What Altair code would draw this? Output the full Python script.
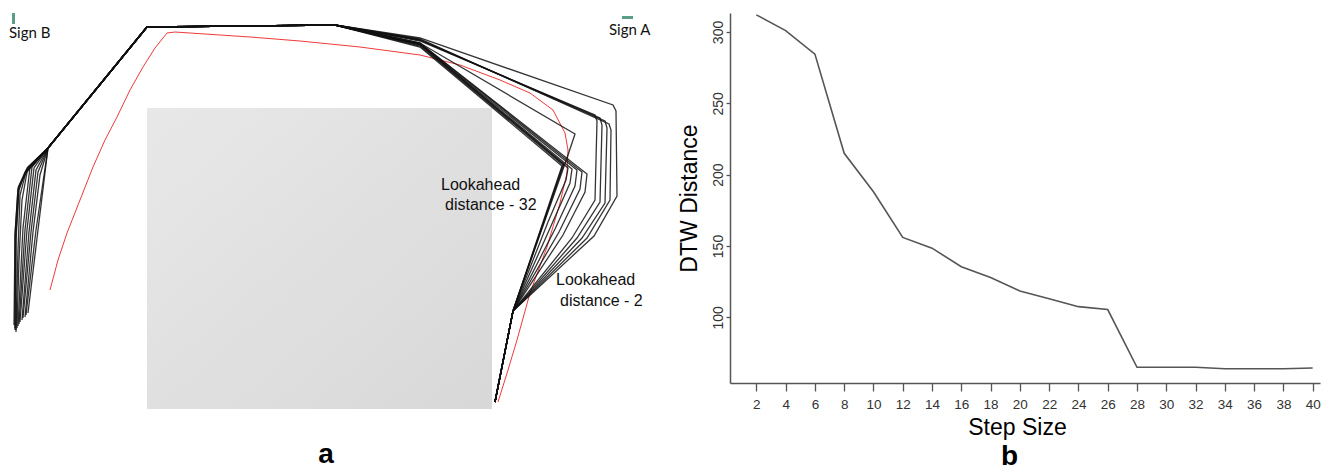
import altair as alt
import pandas as pd

# ---------------- panel b : DTW distance vs step size ----------------
step_size = [2, 4, 6, 8, 10, 12, 14, 16, 18, 20, 22, 24, 26, 28, 30, 32, 34, 36, 38, 40]
dtw_distance = [312, 301, 284.5, 215, 188, 156, 148.5, 135.5, 128, 118.5,
                113, 107.5, 105.5, 65, 65, 65, 64, 64, 64, 64.5]
dtw_ticks = [100, 150, 200, 250, 300]

# ---------------- panel a : trajectories (image coordinates) ----------------
shared_start = [(495, 402), (513, 311)]
right_parts = [
    [(563, 165), (420, 46)],
    [(562, 166), (420, 47)],
    [(564, 164), (421, 45)],
    [(567, 158), (575, 134), (420, 43)],
    [(548, 222), (566, 180), (568, 168), (420, 45)],
    [(551, 226), (570, 183), (572, 169), (420, 44)],
    [(555, 229), (575, 186), (577, 170), (420, 44)],
    [(559, 232), (580, 189), (582, 172), (420, 43)],
    [(563, 235), (585, 192), (587, 174), (420, 43)],
    [(572, 238), (595, 200), (597, 121), (595, 115), (420, 41)],
    [(577, 238), (600, 202), (602, 125), (600, 118), (420, 40)],
    [(582, 238), (605, 203), (607, 128), (605, 121), (420, 40)],
    [(587, 238), (610, 200), (611, 130), (609, 124), (420, 39)],
    [(594, 236), (617, 196), (616, 111), (613, 105), (420, 38)],
]
shared_top = [(335, 25), (147, 27), (48, 148)]
left_parts = [
    [(38, 230), (28, 313)],
    [(36, 230), (26, 315)],
    [(40, 175), (33, 232), (25, 317)],
    [(38, 172), (31, 232), (23, 318)],
    [(36, 170), (29, 232), (22, 320)],
    [(34, 168), (27, 230), (20, 322)],
    [(32, 167), (25, 230), (19, 324)],
    [(30, 167), (23, 228), (18, 326)],
    [(28, 167), (22, 200), (19, 260), (17, 328)],
    [(27, 168), (20, 195), (18, 250), (16, 330)],
    [(26, 170), (19, 190), (16, 240), (16, 332)],
    [(25, 172), (18, 188), (15, 235), (15, 330)],
    [(27, 171), (19, 186), (16, 232), (15, 328)],
    [(25, 174), (18, 190), (15, 235), (14, 325)],
]
red_path = [(50, 290), (58, 260), (67, 233), (80, 200), (93, 167), (105, 140),
            (117, 117), (130, 90), (143, 67), (155, 48), (167, 33), (175, 32),
            (250, 37), (300, 41), (360, 47), (420, 55), (460, 65), (500, 80),
            (530, 93), (553, 110), (565, 133), (568, 150), (567, 173), (560, 203),
            (547, 247), (530, 293), (517, 340), (508, 370), (498, 402)]
obstacle = {"x0": [147], "x1": [492], "y0": [108], "y1": [409]}
sign_marks = {"x0": [12, 622], "x1": [15, 633], "y0": [13, 16], "y1": [24, 19]}
sign_labels = {"text": ["Sign B", "Sign A"], "x": [9, 609], "y": [33, 30]}
lookahead_labels = {"text": ["Lookahead", "distance - 32", "Lookahead", "distance - 2"],
                    "x": [441, 445, 556, 560], "y": [185, 205, 280, 301]}

# ---------------- build tables ----------------
rows = []
for i, (r, l) in enumerate(zip(right_parts, left_parts)):
    pts = shared_start + r + shared_top + l
    for j, (x, y) in enumerate(pts):
        rows.append({"line": i, "order": j, "x": x, "y": y})
df_lines = pd.DataFrame(rows)
df_red = pd.DataFrame([{"order": j, "x": x, "y": y} for j, (x, y) in enumerate(red_path)])
df_b = pd.DataFrame({"step": step_size, "dtw": dtw_distance})

xs = alt.Scale(domain=[0, 660], nice=False, zero=False)
ys = alt.Scale(domain=[13, 472], nice=False, zero=False, reverse=True)

rect = alt.Chart(pd.DataFrame(obstacle)).mark_rect(
    color=alt.Gradient(gradient="linear",
                       stops=[alt.GradientStop(color="#e8e8e8", offset=0),
                              alt.GradientStop(color="#d9d8d8", offset=1)],
                       x1=0, y1=0, x2=1, y2=1)
).encode(x=alt.X("x0:Q", scale=xs, axis=None), x2="x1:Q",
         y=alt.Y("y0:Q", scale=ys, axis=None), y2="y1:Q")

red = alt.Chart(df_red).mark_line(color="#f03a3a", strokeWidth=1).encode(
    x=alt.X("x:Q", scale=xs, axis=None), y=alt.Y("y:Q", scale=ys, axis=None), order="order:Q")

black = alt.Chart(df_lines).mark_line(color="#111111", strokeWidth=1.3, opacity=0.85).encode(
    x=alt.X("x:Q", scale=xs, axis=None), y=alt.Y("y:Q", scale=ys, axis=None),
    detail="line:N", order="order:Q")

signs = alt.Chart(pd.DataFrame(sign_marks)).mark_rect(color="#5a9e86").encode(
    x=alt.X("x0:Q", scale=xs, axis=None), x2="x1:Q",
    y=alt.Y("y0:Q", scale=ys, axis=None), y2="y1:Q")

sign_text = alt.Chart(pd.DataFrame(sign_labels)).mark_text(
    font="Lato", fontSize=15, align="left", baseline="middle", color="#111").encode(
    x=alt.X("x:Q", scale=xs, axis=None), y=alt.Y("y:Q", scale=ys, axis=None), text="text:N")

look_text = alt.Chart(pd.DataFrame(lookahead_labels)).mark_text(
    font="Liberation Sans", fontSize=16, align="left", baseline="middle", color="#111").encode(
    x=alt.X("x:Q", scale=xs, axis=None), y=alt.Y("y:Q", scale=ys, axis=None), text="text:N")

label_a = alt.Chart(pd.DataFrame({"text": ["a"], "x": [326], "y": [455]})).mark_text(
    font="Liberation Sans", fontSize=28, fontWeight="bold", align="center",
    baseline="middle", color="#000").encode(
    x=alt.X("x:Q", scale=xs, axis=None), y=alt.Y("y:Q", scale=ys, axis=None), text="text:N")

panel_a = alt.layer(rect, red, black, signs, sign_text, look_text, label_a).properties(
    width=660, height=459)

xb = alt.Scale(domain=[0.2, 40.5], nice=False, zero=False)
yb = alt.Scale(domain=[54, 313.3], nice=False, zero=False)
x_axis_b = alt.Axis(values=step_size, title="Step Size", tickSize=8, tickCount=20,
                    labelPadding=6, titlePadding=6, titleFontSize=23, titleX=287,
                    labelFontSize=13.5, labelFlush=False, labelOverlap=False)
y_axis_b = alt.Axis(values=dtw_ticks, title="DTW Distance", tickSize=4,
                    labelAngle=270, labelAlign="center", labelBaseline="bottom",
                    labelPadding=1, titlePadding=10, titleFontSize=23,
                    labelFontSize=14, labelFlush=False, labelOverlap=False)

line_b = alt.Chart(df_b).mark_line(color="#555555", strokeWidth=1.6).encode(
    x=alt.X("step:Q", scale=xb, axis=x_axis_b),
    y=alt.Y("dtw:Q", scale=yb, axis=y_axis_b))

label_b = alt.Chart(pd.DataFrame({"text": ["b"], "step": [19.3], "dtw": [2.0]})).mark_text(
    font="Liberation Sans", fontSize=28, fontWeight="bold", align="center",
    baseline="middle", color="#000").encode(
    x=alt.X("step:Q", scale=xb, axis=x_axis_b), y=alt.Y("dtw:Q", scale=yb, axis=y_axis_b),
    text="text:N")

panel_b = alt.layer(line_b, label_b).properties(
    width=590, height=370,
    title=alt.TitleParams(text=" ", fontSize=9, offset=2))

chart = alt.hconcat(panel_a, panel_b, spacing=18).properties(padding=0).configure_view(
    stroke=None).configure_axis(
    grid=False, domainColor="#555555", domainWidth=1.5, tickColor="#555555",
    tickWidth=1.3, labelColor="#333333", titleColor="#000000",
    labelFont="Liberation Sans", titleFont="Liberation Sans", titleFontWeight="normal")

chart.save("out.html", embed_options={"renderer": "svg", "actions": False})
